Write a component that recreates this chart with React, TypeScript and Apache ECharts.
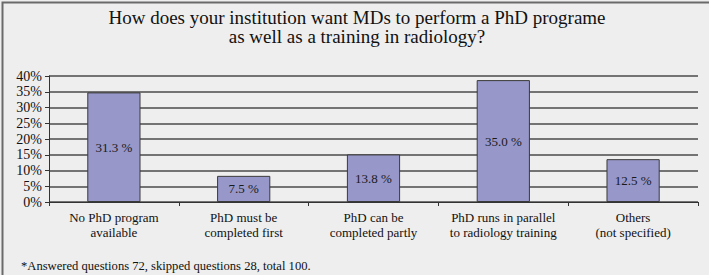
import React, { useEffect, useRef } from "react";
import * as echarts from "echarts";

const categories = [
  "No PhD program\navailable",
  "PhD must be\ncompleted first",
  "PhD can be\ncompleted partly",
  "PhD runs in parallel\nto radiology training",
  "Others\n(not specified)",
];
const barValues = [34.8, 8.3, 15.1, 38.7, 13.6];
const barLabels = ["31.3 %", "7.5 %", "13.8 %", "35.0 %", "12.5 %"];
const titleText = "How does your institution want MDs to perform a PhD programe\nas well as a training in radiology?";
const footnote = "*Answered questions 72, skipped questions 28, total 100.";

const SERIF = "'Liberation Serif', 'Times New Roman', serif";

export default function App() {
  const ref = useRef<HTMLDivElement>(null);
  useEffect(() => {
    if (!ref.current) return;
    const chart = echarts.init(ref.current, null, { renderer: "svg" });
    chart.setOption({
      animation: false,
      backgroundColor: "#eeeeee",
      graphic: [
        {
          type: "rect",
          left: 0,
          top: 0,
          shape: { width: 708, height: 274 },
          style: { fill: "none", stroke: "#6a6a6a", lineWidth: 2 },
          silent: true,
        },
        {
          type: "text",
          x: 357,
          y: 8,
          style: {
            text: titleText,
            font: `19px ${SERIF}`,
            lineHeight: 19,
            align: "center",
            verticalAlign: "top",
            fill: "#111",
          },
        },
        {
          type: "text",
          left: 21,
          top: 259,
          style: {
            text: footnote,
            font: `12.6px ${SERIF}`,
            fill: "#111",
          },
        },
      ],
      grid: { left: 49, right: 11, top: 76, bottom: 73, containLabel: false },
      xAxis: {
        type: "category",
        data: categories,
        axisLine: { show: true, lineStyle: { color: "#333", width: 1 } },
        axisTick: { show: true, alignWithLabel: false, length: 4, lineStyle: { color: "#333" } },
        axisLabel: {
          fontFamily: SERIF,
          fontSize: 13,
          lineHeight: 15,
          color: "#111",
          margin: 8,
          interval: 0,
        },
      },
      yAxis: {
        type: "value",
        min: 0,
        max: 40,
        interval: 5,
        axisLine: { show: true, lineStyle: { color: "#333", width: 1 } },
        axisTick: { show: true, length: 4, lineStyle: { color: "#333" } },
        axisLabel: {
          formatter: "{value}%",
          fontFamily: SERIF,
          fontSize: 14,
          color: "#111",
          margin: 7,
        },
        splitLine: { show: true, lineStyle: { color: "#4a4a4a", width: 1.6 } },
      },
      series: [
        {
          type: "bar",
          data: barValues,
          barWidth: "41%",
          itemStyle: { color: "#9797c9", borderColor: "#3a3a3a", borderWidth: 1 },
          label: {
            show: true,
            position: "inside",
            formatter: (p: any) => barLabels[p.dataIndex],
            fontFamily: SERIF,
            fontSize: 13,
            color: "#1a1a1a",
          },
        },
      ],
    });
    return () => chart.dispose();
  }, []);
  return (
    <div
      ref={ref}
      style={{ position: "fixed", left: 0, top: 0, width: 709, height: 275 }}
    />
  );
}
